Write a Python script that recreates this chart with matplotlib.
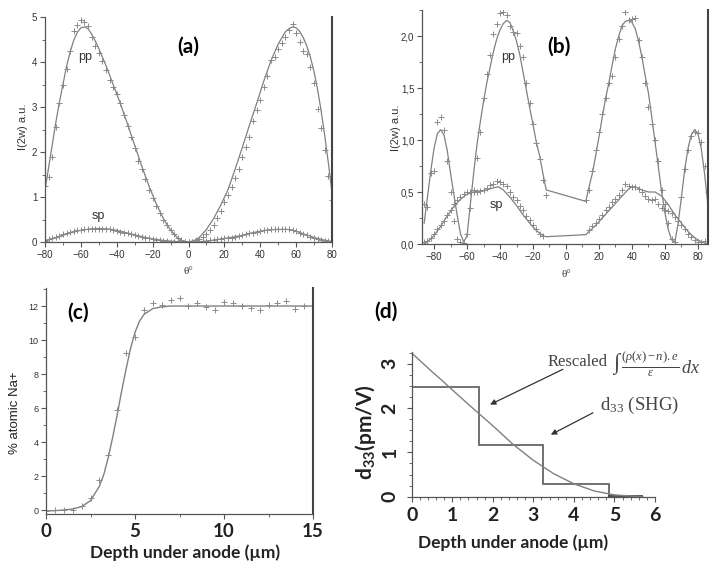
import matplotlib
matplotlib.use("Agg")
import matplotlib.pyplot as plt
from matplotlib.ticker import MultipleLocator

plt.rcParams["font.family"] = ["Liberation Sans", "DejaVu Sans"]
plt.rcParams["mathtext.fontset"] = "custom"
plt.rcParams["mathtext.rm"] = "Liberation Serif"
plt.rcParams["mathtext.it"] = "Liberation Serif:italic"
plt.rcParams["mathtext.bf"] = "Lato:bold"

# ---- (a) poled sample, SHG vs angle ----
theta_a = list(range(-80, 81, 2))
pp_a = [1.25, 1.45, 1.9, 2.55, 3.1, 3.5, 3.85, 4.25, 4.68, 4.82, 4.93, 4.88, 4.8, 4.56,
        4.35, 4.2, 4.02, 3.82, 3.6, 3.45, 3.3, 3.08, 2.82, 2.58, 2.34, 2.08, 1.8, 1.63,
        1.4, 1.16, 0.97, 0.8, 0.65, 0.49, 0.38, 0.27, 0.17, 0.09, 0.04, 0.01, 0.0,
        0.01, 0.04, 0.07, 0.11, 0.18, 0.26, 0.38, 0.53, 0.7, 0.88, 1.05, 1.23, 1.43,
        1.62, 1.9, 2.12, 2.34, 2.68, 2.93, 3.16, 3.44, 3.7, 4.05, 4.12, 4.3, 4.42,
        4.56, 4.71, 4.84, 4.65, 4.45, 4.25, 4.18, 3.89, 3.53, 2.95, 2.53, 2.04, 1.47, 0.93]
sp_a = [0.03, 0.06, 0.09, 0.11, 0.14, 0.17, 0.19, 0.22, 0.24, 0.26, 0.27, 0.28, 0.29,
        0.3, 0.3, 0.3, 0.3, 0.29, 0.28, 0.26, 0.25, 0.23, 0.21, 0.19, 0.17, 0.15, 0.13,
        0.11, 0.1, 0.08, 0.07, 0.05, 0.04, 0.03, 0.02, 0.01, 0.01, 0.0, 0.0, 0.0, 0.0,
        0.0, 0.01, 0.01, 0.02, 0.03, 0.04, 0.05, 0.06, 0.07, 0.08, 0.09, 0.1, 0.11,
        0.13, 0.15, 0.17, 0.19, 0.21, 0.23, 0.25, 0.26, 0.27, 0.28, 0.28, 0.28, 0.28,
        0.28, 0.3, 0.26, 0.24, 0.21, 0.18, 0.15, 0.12, 0.1, 0.07, 0.05, 0.03, 0.02, 0.01]
theta_fit_a = [-80, -78, -76, -74, -72, -70, -68, -66, -64, -62, -60, -58, -56, -54, -52,
               -50, -46, -42, -38, -34, -30, -26, -22, -18, -14, -10, -6, -3, 0,
               3, 6, 10, 14, 18, 22, 26, 30, 34, 38, 42, 46, 50, 54, 56, 58, 60, 62,
               64, 66, 68, 70, 72, 74, 76, 78, 80]
pp_fit_a = [1.15, 1.65, 2.15, 2.65, 3.1, 3.5, 3.9, 4.22, 4.48, 4.66, 4.76, 4.78, 4.74,
            4.62, 4.47, 4.3, 3.92, 3.5, 3.08, 2.62, 2.15, 1.68, 1.24, 0.85, 0.52, 0.26,
            0.09, 0.02, 0.0,
            0.03, 0.1, 0.28, 0.52, 0.82, 1.16, 1.62, 2.1, 2.6, 3.08, 3.58, 4.03, 4.4,
            4.67, 4.74, 4.78, 4.76, 4.68, 4.54, 4.35, 4.1, 3.78, 3.38, 2.9, 2.35, 1.75, 1.1]
theta_fit_sp_a = [-80, -75, -70, -65, -60, -55, -50, -45, -40, -35, -30, -25, -20, -15,
                  -10, -5, 0, 5, 10, 15, 20, 25, 30, 35, 40, 45, 50, 55, 60, 65, 70, 75, 80]
sp_fit_a = [0.02, 0.08, 0.15, 0.21, 0.26, 0.29, 0.3, 0.29, 0.26, 0.21, 0.16, 0.11, 0.07,
            0.04, 0.02, 0.005, 0.0, 0.005, 0.02, 0.05, 0.08, 0.11, 0.15, 0.2, 0.24, 0.27,
            0.28, 0.28, 0.24, 0.17, 0.1, 0.05, 0.01]

# ---- (b) ----
theta_b = list(range(-86, -11, 2)) + list(range(12, 87, 2))
pp_b = [0.38, 0.36, 0.68, 0.7, 1.17, 1.22, 1.1, 0.8, 0.5, 0.22, 0.05, 0.02, 0.01, 0.1,
        0.35, 0.52, 0.83, 1.08, 1.4, 1.63, 1.82, 2.02, 2.12, 2.22, 2.23, 2.2, 2.1, 2.04,
        2.03, 1.9, 1.8, 1.55, 1.36, 1.15, 0.97, 0.82, 0.62, 0.47,
        0.42, 0.52, 0.7, 0.9, 1.08, 1.25, 1.4, 1.55, 1.62, 1.8, 1.97, 2.1, 2.23, 2.15,
        2.16, 2.17, 1.96, 1.8, 1.55, 1.32, 1.15, 1.0, 0.8, 0.52, 0.38, 0.2, 0.05, 0.02,
        0.22, 0.45, 0.72, 0.9, 1.04, 1.08, 1.07, 0.98, 0.75, 0.5]
pp_fit_b = [0.2, 0.45, 0.7, 0.92, 1.06, 1.1, 1.05, 0.9, 0.68, 0.48, 0.28, 0.1, 0.02,
            0.08, 0.38, 0.68, 0.95, 1.17, 1.37, 1.55, 1.7, 1.85, 1.97, 2.06, 2.12, 2.15,
            2.13, 2.05, 1.95, 1.82, 1.65, 1.48, 1.31, 1.15, 0.98, 0.85, 0.68, 0.52,
            0.41, 0.55, 0.68, 0.85, 1.03, 1.22, 1.4, 1.55, 1.72, 1.88, 2.0, 2.1, 2.14,
            2.15, 2.13, 2.07, 1.95, 1.8, 1.62, 1.45, 1.22, 0.98, 0.74, 0.5, 0.3, 0.14,
            0.04, 0.02, 0.2, 0.45, 0.72, 0.92, 1.05, 1.1, 1.06, 0.92, 0.68, 0.38]
theta_sp_b = list(range(-86, -13, 2)) + list(range(14, 85, 2))
sp_b = [0.02, 0.03, 0.06, 0.1, 0.14, 0.18, 0.22, 0.28, 0.33, 0.38, 0.42, 0.45, 0.48,
        0.5, 0.5, 0.5, 0.5, 0.51, 0.52, 0.54, 0.57, 0.58, 0.61, 0.6, 0.58, 0.56, 0.5,
        0.45, 0.42, 0.37, 0.33, 0.27, 0.23, 0.18, 0.14, 0.1, 0.08,
        0.13, 0.17, 0.2, 0.24, 0.28, 0.33, 0.36, 0.4, 0.43, 0.47, 0.52, 0.58, 0.56,
        0.55, 0.55, 0.53, 0.5, 0.46, 0.43, 0.42, 0.43, 0.38, 0.35, 0.33, 0.32, 0.3,
        0.26, 0.22, 0.18, 0.14, 0.1, 0.07, 0.04, 0.02, 0.02, 0.03]
theta_fit_sp_b = [-86, -84, -80, -76, -72, -68, -64, -60, -56, -52, -48, -44, -41, -38,
                  -34, -30, -26, -22, -18, -14, -12,
                  12, 14, 18, 22, 26, 30, 34, 38, 40, 42, 46, 50, 54, 58, 62, 66, 70,
                  74, 78, 82, 86]
sp_fit_b = [0.0, 0.02, 0.08, 0.17, 0.27, 0.36, 0.43, 0.48, 0.5, 0.51, 0.52, 0.54, 0.55,
            0.52, 0.45, 0.37, 0.28, 0.2, 0.13, 0.08, 0.07,
            0.09, 0.12, 0.18, 0.25, 0.32, 0.39, 0.46, 0.53, 0.55, 0.55, 0.52, 0.5, 0.5,
            0.46, 0.38, 0.28, 0.2, 0.12, 0.06, 0.02, 0.0]

# ---- (c) Na+ profile ----
depth_c = [0, 0.5, 1.0, 1.5, 2.0, 2.5, 3.0, 3.5, 4.0, 4.5, 5.0, 5.5, 6.0, 6.5, 7.0, 7.5,
           8.0, 8.5, 9.0, 9.5, 10.0, 10.5, 11.0, 11.5, 12.0, 12.5, 13.0, 13.5, 14.0, 14.5]
na_c = [-0.05, -0.02, -0.02, 0.0, 0.25, 0.68, 1.76, 3.24, 5.9, 9.25, 10.2, 11.76, 12.16,
        12.06, 12.35, 12.45, 12.0, 12.2, 11.96, 11.77, 12.25, 12.2, 11.98, 11.9, 11.74,
        12.04, 12.2, 12.3, 11.84, 11.98]
depth_fit_c = [0, 0.5, 1, 1.5, 2, 2.5, 3, 3.25, 3.5, 3.75, 4, 4.25, 4.5, 4.75, 5, 5.25,
               5.5, 6, 6.5, 7, 8, 10, 15]
na_fit_c = [-0.05, -0.04, 0.0, 0.06, 0.2, 0.55, 1.4, 2.1, 3.1, 4.3, 5.6, 7.0, 8.3, 9.5,
            10.45, 11.1, 11.5, 11.85, 11.95, 12.0, 12.0, 12.0, 12.0]

# ---- (d) d33 profile ----
depth_d = [0, 0.25, 0.5, 0.75, 1.0, 1.5, 2.0, 2.5, 3.0, 3.5, 4.0, 4.5, 5.0, 5.5, 5.7]
d33_fit = [3.24, 3.03, 2.82, 2.62, 2.41, 2.0, 1.6, 1.18, 0.82, 0.52, 0.29, 0.13, 0.04,
           0.01, 0.0]
step_edges = [0, 1.65, 3.25, 4.87]
step_d33 = [2.47, 1.16, 0.28]
tail_x = [4.87, 5.68]
tail_y = [0.02, 0.02]

W, H = 716, 571
LINE = "#808080"
MARK = "#8a8a8a"
SPINE = "#555555"
BOLD = ["Lato", "DejaVu Sans"]
SERIF = ["Liberation Serif", "DejaVu Serif"]

fig = plt.figure(figsize=(W / 100, H / 100), dpi=100)


def box(x0, y0, x1, y1):
    return fig.add_axes([x0 / W, 1 - y1 / H, (x1 - x0) / W, (y1 - y0) / H])


def ftext(x, y, s, **kw):
    kw.setdefault("ha", "center")
    kw.setdefault("va", "center")
    fig.text(x / W, 1 - y / H, s, **kw)


def frame(ax, right=True):
    ax.spines["top"].set_visible(False)
    for sp in ax.spines.values():
        sp.set_color(SPINE)
        sp.set_linewidth(0.9)
    if right:
        ax.spines["right"].set_color("#444444")
        ax.spines["right"].set_linewidth(1.5)
    else:
        ax.spines["right"].set_visible(False)
    ax.tick_params(which="both", direction="out", colors=SPINE, labelcolor="#333333",
                   right=False, top=False)
    ax.tick_params(which="major", length=3.5, width=0.8, pad=2)
    ax.tick_params(which="minor", length=2, width=0.6)


# (a)
ax = box(45, 17, 332, 242)
ax.plot(theta_fit_a, pp_fit_a, color=LINE, lw=0.9)
ax.plot(theta_fit_sp_a, sp_fit_a, color=LINE, lw=0.9)
ax.plot(theta_a, pp_a, ls="none", marker="+", ms=4.5, mew=0.7, color=MARK)
ax.plot(theta_a, sp_a, ls="none", marker="+", ms=4, mew=0.7, color=MARK)
ax.set_xlim(-80, 80)
ax.set_ylim(0, 5)
ax.xaxis.set_major_locator(MultipleLocator(20))
ax.xaxis.set_minor_locator(MultipleLocator(10))
ax.yaxis.set_major_locator(MultipleLocator(1))
ax.yaxis.set_minor_locator(MultipleLocator(0.5))
frame(ax)
ax.tick_params(labelsize=7)
ftext(23, 127, "I(2w) a.u.", rotation=90, fontsize=8, color="#333333")
ftext(188, 272, "θ°", fontsize=8, family=SERIF, color="#333333")
ftext(85, 57, "pp", fontsize=9, color="#333333")
ftext(98, 216, "sp", fontsize=9, color="#333333")
ftext(188, 47, "(a)", fontsize=15, fontweight="bold", family=BOLD)

# (b)
ax = box(422, 10, 708, 244)
ax.plot(theta_b, pp_fit_b, color=LINE, lw=0.9)
ax.plot(theta_fit_sp_b, sp_fit_b, color=LINE, lw=0.9)
ax.plot(theta_b, pp_b, ls="none", marker="+", ms=4.5, mew=0.7, color=MARK)
ax.plot(theta_sp_b, sp_b, ls="none", marker="+", ms=4, mew=0.7, color=MARK)
ax.set_xlim(-87.3, 86.1)
ax.set_ylim(0, 2.25)
ax.xaxis.set_major_locator(MultipleLocator(20))
ax.xaxis.set_minor_locator(MultipleLocator(10))
ax.set_yticks([0, 0.5, 1.0, 1.5, 2.0], ["0,0", "0,5", "1,0", "1,5", "2,0"])
ax.yaxis.set_minor_locator(MultipleLocator(0.25))
frame(ax)
ax.tick_params(labelsize=7)
ftext(396, 128, "I(2w) a.u.", rotation=90, fontsize=8, color="#333333")
ftext(566, 275, "θ°", fontsize=8, family=SERIF, color="#333333")
ftext(508, 57, "pp", fontsize=9, color="#333333")
ftext(496, 205, "sp", fontsize=9, color="#333333")
ftext(559, 47, "(b)", fontsize=15, fontweight="bold", family=BOLD)

# (c)
ax = box(46, 288, 313, 514)
ax.plot(depth_fit_c, na_fit_c, color=LINE, lw=1.0)
ax.plot(depth_c, na_c, ls="none", marker="+", ms=4.5, mew=0.7, color=MARK)
ax.set_xlim(0, 15)
ax.set_ylim(-0.235, 13.06)
frame(ax)
ax.set_xticks([0, 5, 10, 15], ["0", "5", "10", "15"], fontsize=13.5, fontweight="bold",
              family=BOLD, color="#222222")
ax.xaxis.set_minor_locator(MultipleLocator(2.5))
ax.yaxis.set_major_locator(MultipleLocator(2))
ax.yaxis.set_minor_locator(MultipleLocator(1))
ax.tick_params(axis="y", labelsize=6.5)
ax.tick_params(axis="x", pad=3)
ftext(15, 413, "% atomic Na+", rotation=90, fontsize=9.5, color="#222222")
ftext(185, 553, "Depth under anode (µm)", fontsize=12.5, fontweight="bold", family=BOLD,
      color="#222222")
ftext(78, 313, "(c)", fontsize=15, fontweight="bold", family=BOLD)

# (d)
ax = box(411.7, 351.7, 655, 496.7)
ax.stairs(step_d33, step_edges, baseline=0, color="#666666", lw=1.3)
ax.plot(tail_x, tail_y, color="#444444", lw=1.3)
ax.plot(depth_d, d33_fit, color=LINE, lw=1.0)
ax.set_xlim(0, 6)
ax.set_ylim(0, 3.27)
frame(ax, right=False)
ax.set_xticks(range(7), [str(v) for v in range(7)], fontsize=14, fontweight="bold",
              family=BOLD, color="#222222")
ax.set_yticks(range(4), [str(v) for v in range(4)], fontsize=14, fontweight="bold",
              family=BOLD, color="#222222", rotation=90, va="center")
ax.xaxis.set_minor_locator(MultipleLocator(0.2))
ax.yaxis.set_minor_locator(MultipleLocator(0.25))
ax.tick_params(axis="x", pad=4)
ax.tick_params(axis="y", pad=6)
ax.annotate("", xy=(1.87, 2.05), xytext=(3.79, 2.9), annotation_clip=False,
            arrowprops=dict(arrowstyle="-|>", color="#333333", lw=0.9, mutation_scale=8))
ax.annotate("", xy=(3.37, 1.37), xytext=(4.53, 1.92), annotation_clip=False,
            arrowprops=dict(arrowstyle="-|>", color="#333333", lw=0.9, mutation_scale=8))
ftext(548, 362, "Rescaled", ha="left", fontsize=12, family=SERIF, color="#444444")
ftext(613, 364, "∫", ha="left", fontsize=16, family=SERIF, color="#444444")
ftext(621, 364, r"$\frac{(\rho(x)-n).e}{\varepsilon}\,dx$", ha="left", fontsize=13,
      color="#444444")
ftext(600, 405, r"d$_{33}$ (SHG)", ha="left", fontsize=13.5, family=SERIF, color="#444444")
ftext(366, 432, r"d$_{\mathbf{33}}$(pm/V)", rotation=90, fontsize=15, fontweight="bold",
      family=BOLD, color="#222222")
ftext(513, 543, "Depth under anode (µm)", fontsize=12.5, fontweight="bold", family=BOLD,
      color="#222222")
ftext(386, 312, "(d)", fontsize=15, fontweight="bold", family=BOLD)

fig.savefig("out.png", dpi=100)
